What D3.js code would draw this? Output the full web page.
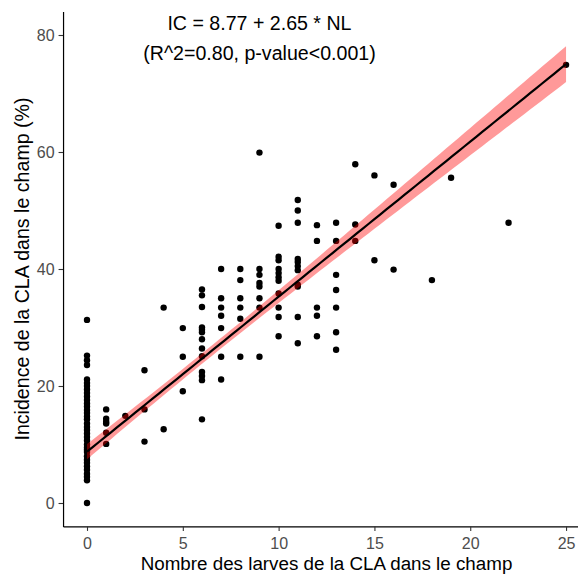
<!DOCTYPE html>
<html>
<head>
<meta charset="utf-8">
<script src="https://cdn.jsdelivr.net/npm/d3@7"></script>
<style>
  html, body { margin: 0; padding: 0; background: #fff; }
  svg { display: block; font-family: "Liberation Sans", Arial, sans-serif; }
</style>
</head>
<body>
<svg id="chart" width="578" height="574"></svg>
<script>
// Number of CLA larvae per field (NL) and CLA incidence in the field (IC, %)
const larves = [
  0,0,0,0,0,0,0,0,0,0,0,0,0,0,0,0,0,0,0,0,0,0,0,0,0,0,0,0,0,0,0,0,0,0,0,0,
  1,1,1,1,1,1,
  2,
  3,3,3,
  4,4,
  5,5,5,
  6,6,6,6,6,6,6,6,6,6,6,6,6,
  7,7,7,7,7,7,7,
  8,8,8,8,8,8,
  9,9,9,9,9,9,9,9,
  10,10,10,10,10,10,10,10,10,10,10,
  11,11,11,11,11,11,11,11,11,11,11,
  12,12,12,12,12,
  13,13,13,13,13,13,13,
  14,14,14,
  15,15,
  16,16,
  18,
  19,
  22,
  25
];
const incidence = [
  31.3,25.2,24.4,23.6,21.1,20.5,20.0,19.4,18.8,18.2,17.6,17.0,16.5,15.9,15.4,14.8,14.3,13.6,
  13.0,12.5,11.9,11.3,10.7,10.0,9.5,9.1,8.7,8.0,7.4,6.9,6.3,5.7,5.0,4.5,3.9,0.0,
  16.0,14.4,13.9,13.6,12.0,10.1,
  14.9,
  22.7,16.0,10.5,
  33.4,12.6,
  29.9,25.0,19.1,
  36.5,35.5,33.5,30.0,29.6,29.2,28.0,26.4,25.1,22.4,21.7,21.0,14.3,
  40.0,35.0,33.4,32.0,29.9,25.0,21.1,
  40.0,38.1,35.0,33.4,31.5,25.0,
  59.9,40.0,39.0,37.6,37.0,35.0,33.4,25.0,
  47.4,42.1,41.5,40.0,39.3,38.6,38.0,35.8,33.4,31.8,28.5,
  51.8,50.0,47.9,41.7,41.2,40.5,39.8,37.3,37.0,31.8,27.3,
  47.5,44.8,33.4,32.0,28.5,
  47.9,44.8,39.0,36.4,33.4,29.2,26.2,
  57.9,47.6,44.8,
  56.0,41.5,
  54.4,39.9,
  38.1,
  55.6,
  47.9,
  74.9
];

// Fitted model, as stated in the annotation
const intercept = 8.77;
const slope = 2.65;
// coefficient standard errors and their covariance (model summary)
const seIntercept = 0.66;
const seSlope = 0.079;
const covInterceptSlope = -0.038;
const tCrit = 1.97;

const equationLines = ["IC = 8.77 + 2.65 * NL", "(R^2=0.80, p-value<0.001)"];

const xTicks = [0, 5, 10, 15, 20, 25];
const yTicks = [0, 20, 40, 60, 80];
const xTitle = "Nombre des larves de la CLA dans le champ";
const yTitle = "Incidence de la CLA dans le champ (%)";

const svg = d3.select("#chart");

const x = d3.scaleLinear().domain([-1.25, 26.25]).range([63.05, 590.0]);
const y = d3.scaleLinear().domain([-4, 84]).range([526.4, 11.6]);

// data points (drawn first so the confidence band tints those beneath it)
const pts = larves.map((d, i) => ({ nl: d, ic: incidence[i] }));
svg.append("g")
  .selectAll("circle")
  .data(pts)
  .join("circle")
  .attr("cx", d => x(d.nl))
  .attr("cy", d => y(d.ic))
  .attr("r", 3.2)
  .attr("fill", "#000");

// 95% confidence band of the fitted mean
const [xmin, xmax] = d3.extent(larves);
const grid = d3.range(0, 81).map(k => xmin + (xmax - xmin) * k / 80);
const band = grid.map(v => {
  const fit = intercept + slope * v;
  const varFit = seIntercept ** 2 + v * v * seSlope ** 2 + 2 * v * covInterceptSlope;
  const half = tCrit * Math.sqrt(varFit);
  return { v, lo: fit - half, hi: fit + half, fit };
});

svg.append("path")
  .datum(band)
  .attr("d", d3.area().x(d => x(d.v)).y0(d => y(d.lo)).y1(d => y(d.hi)))
  .attr("fill", "red")
  .attr("fill-opacity", 0.4);

svg.append("path")
  .datum(band)
  .attr("d", d3.line().x(d => x(d.v)).y(d => y(d.fit)))
  .attr("fill", "none")
  .attr("stroke", "#000")
  .attr("stroke-width", 2.2);

// axes
const xAxis = d3.axisBottom(x).tickValues(xTicks).tickSize(4.5).tickSizeOuter(0).tickPadding(4);
const yAxis = d3.axisLeft(y).tickValues(yTicks).tickSize(4.5).tickSizeOuter(0).tickPadding(4);

const gx = svg.append("g").attr("transform", `translate(0,${y.range()[0]})`).call(xAxis);
const gy = svg.append("g").attr("transform", `translate(${x.range()[0]},0)`).call(yAxis);

[gx, gy].forEach(g => {
  g.select(".domain").attr("stroke", "#000").attr("stroke-width", 1.2);
  g.selectAll(".tick line").attr("stroke", "#333").attr("stroke-width", 1.1);
  g.selectAll(".tick text")
    .attr("fill", "#4d4d4d")
    .style("font-size", "16px")
    .style("font-family", "'Liberation Sans', Arial, sans-serif");
});
gx.selectAll(".tick text").attr("dy", "0.88em");

// axis titles
svg.append("text")
  .attr("x", (x.range()[0] + x.range()[1]) / 2)
  .attr("y", 569.5)
  .attr("text-anchor", "middle")
  .attr("fill", "#000")
  .style("font-size", "18.8px")
  .text(xTitle);

svg.append("text")
  .attr("transform", `translate(29,${(y.range()[0] + y.range()[1]) / 2}) rotate(-90)`)
  .attr("text-anchor", "middle")
  .attr("fill", "#000")
  .style("font-size", "19.6px")
  .text(yTitle);

// model annotation
svg.append("g")
  .selectAll("text")
  .data(equationLines)
  .join("text")
  .attr("x", x(9))
  .attr("y", (d, i) => 30 + i * 29.5)
  .attr("text-anchor", "middle")
  .attr("fill", "#000")
  .style("font-size", "19.6px")
  .text(d => d);
</script>
</body>
</html>
